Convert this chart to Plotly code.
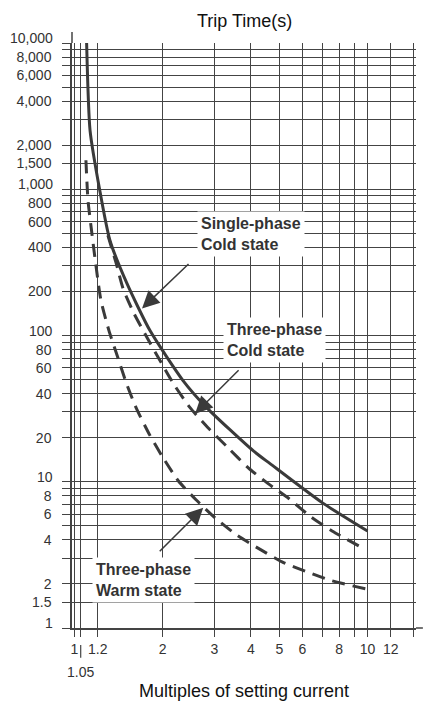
import numpy as np
import plotly.graph_objects as go

# Single-phase, cold state (solid)
single_cold_x = [1.10, 1.13, 1.22, 1.32, 1.51, 1.81, 2.35, 2.83, 4.07, 4.65, 7.0, 10.0]
single_cold_y = [10000, 2530, 980, 450, 227, 108, 49, 32, 16.3, 13.3, 7.2, 4.6]

# Three-phase, cold state (dashed)
three_cold_x = [1.30, 1.385, 1.464, 1.596, 1.768, 1.958, 2.186, 2.48, 2.855, 3.34,
                3.91, 4.58, 5.4, 6.41, 7.57, 9.8]
three_cold_y = [484, 316, 210, 141.6, 96.9, 67.4, 46.2, 32.1, 23.4, 17.1,
                12.5, 9.7, 7.65, 5.75, 4.61, 3.45]

# Three-phase, warm state (dashed)
three_warm_x = [1.094, 1.112, 1.143, 1.175, 1.231, 1.311, 1.402, 1.505, 1.628, 1.796,
                1.997, 2.256, 2.598, 3.017, 3.572, 4.33, 5.11, 6.22, 7.57, 9.9]
three_warm_y = [1580, 841, 524, 337, 174, 108, 71.8, 46.9, 31.6, 21.3,
                14.8, 10.2, 7.53, 5.67, 4.33, 3.42, 2.83, 2.42, 2.10, 1.85]

# axis grid / ticks
x_grid = [1, 1.05, 1.2, 2, 3, 4, 5, 6, 7, 8, 9, 10, 12, 14.3]
x_text = ['1', '', '1.2', '2', '3', '4', '5', '6', '', '8', '', '10', '12', '']
y_grid = [1, 1.5, 2, 3, 4, 5, 6, 7, 8, 9, 10, 20, 30, 40, 50, 60, 70, 80, 90,
          100, 200, 300, 400, 500, 600, 700, 800, 900, 1000, 1500, 2000, 3000,
          4000, 5000, 6000, 7000, 8000, 9000, 10000]
y_labels = {1.5: '1.5', 2: '2', 4: '4', 6: '6', 8: '8', 20: '20',
            40: '40', 60: '60', 80: '80', 200: '200', 400: '400',
            600: '600', 800: '800', 1500: '1,500', 2000: '2,000',
            4000: '4,000', 6000: '6,000', 8000: '8,000'}
y_text = [y_labels.get(v, '') for v in y_grid]
# decade labels sit a little higher than their lines
decade_vals = [1, 10, 100, 1000, 10000]
decade_text = ['1', '10', '100', '1,000', '10,000']

ink = '#3a3a3a'
grid = '#444444'
font = 'Liberation Sans, Arial, sans-serif'
tick_font = dict(family=font, size=14, color='#333333')

fig = go.Figure()
fig.add_trace(go.Scatter(x=single_cold_x, y=single_cold_y, mode='lines',
                         line=dict(color=ink, width=3, shape='spline', smoothing=0.6),
                         showlegend=False))
fig.add_trace(go.Scatter(x=three_cold_x, y=three_cold_y, mode='lines',
                         line=dict(color=ink, width=3, dash='13px,8px',
                                   shape='spline', smoothing=0.6),
                         showlegend=False))
fig.add_trace(go.Scatter(x=three_warm_x, y=three_warm_y, mode='lines',
                         line=dict(color=ink, width=3, dash='13px,8px',
                                   shape='spline', smoothing=0.6),
                         showlegend=False))

xr = [-0.0085, 1.1655]
yr = [0, 4]


def xpaper(v):
    return (np.log10(v) - xr[0]) / (xr[1] - xr[0])


lab_font = dict(family=font, size=16, color='#333333')
notes = [
    dict(text='<b>Single-phase<br>Cold state</b>', x=np.log10(2.62), y=np.log10(495)),
    dict(text='<b>Three-phase<br>Cold state</b>', x=np.log10(3.21), y=np.log10(93)),
    dict(text='<b>Three-phase<br>Warm state</b>', x=np.log10(1.147), y=np.log10(2.13)),
]
annotations = []
for n in notes:
    annotations.append(dict(text=n['text'], x=n['x'], y=n['y'], xref='x', yref='y',
                            xanchor='left', yanchor='middle', align='left',
                            showarrow=False, bgcolor='white', borderpad=3,
                            font=lab_font))

# arrows: tip (data), tail offset (px)
arrows = [(1.70, 153, 48, -46), (2.58, 29.2, 45, -45), (2.75, 6.64, -45, 45)]
for ax_x, ax_y, dx, dy in arrows:
    annotations.append(dict(text='', x=np.log10(ax_x), y=np.log10(ax_y), xref='x', yref='y',
                            showarrow=True, arrowhead=2, arrowsize=2.3, arrowwidth=1.5,
                            arrowcolor=ink, ax=dx, ay=dy, standoff=0))

for v, t in zip(decade_vals, decade_text):
    annotations.append(dict(text=t, x=0, y=np.log10(v), xref='paper', yref='y',
                            xanchor='right', yanchor='middle', xshift=-17, yshift=5,
                            showarrow=False, font=tick_font))

annotations += [
    dict(text='1.05', x=xpaper(1.05), y=-0.075, xref='paper', yref='paper',
         showarrow=False, font=tick_font, xanchor='center', yanchor='middle'),
    dict(text='Multiples of setting current', x=0.5, y=-0.107, xref='paper', yref='paper',
         showarrow=False, font=dict(family=font, size=18, color='#111111'),
         xanchor='center', yanchor='middle'),
    dict(text='I', x=1.03, y=0.0, xref='paper', yref='paper', showarrow=False,
         font=dict(family=font, size=16, color='#333333'), xanchor='left', yanchor='middle'),
    dict(text='Trip Time(s)', x=0.5, y=1.037, xref='paper', yref='paper', showarrow=False,
         font=dict(family=font, size=18, color='#111111'), xanchor='center', yanchor='middle'),
]

shapes = [
    dict(type='line', xref='paper', yref='paper', x0=0, x1=0, y0=1, y1=1.019,
         line=dict(color=grid, width=1.5)),
    dict(type='line', xref='paper', yref='paper', x0=1, x1=1.02, y0=0, y1=0,
         line=dict(color=grid, width=1.5)),
    dict(type='line', xref='paper', yref='paper', x0=xpaper(1.05), x1=xpaper(1.05),
         y0=-0.029, y1=-0.051, line=dict(color=grid, width=1.2)),
]

# the page body adds an 8px offset, so margins are shifted up/left by 8px
fig.update_layout(
    width=435, height=705,
    margin=dict(l=64, r=27, t=35, b=85, autoexpand=False),
    paper_bgcolor='white', plot_bgcolor='white',
    annotations=annotations, shapes=shapes,
    xaxis=dict(type='log', range=xr, tickmode='array', tickvals=x_grid, ticktext=x_text,
               showgrid=True, gridcolor=grid, gridwidth=1.4, automargin=False,
               ticks='outside', ticklen=7, tickcolor=grid, tickwidth=1.4,
               showline=True, linecolor=grid, linewidth=1.5, zeroline=False,
               tickfont=tick_font),
    yaxis=dict(type='log', range=yr, tickmode='array', tickvals=y_grid, ticktext=y_text,
               showgrid=True, gridcolor=grid, gridwidth=1.4, automargin=False,
               ticks='outside', ticklen=8, tickcolor=grid, tickwidth=1.4,
               ticklabelstandoff=8,
               showline=True, linecolor=grid, linewidth=1.5, zeroline=False,
               tickfont=tick_font),
)

fig.write_html("out.html")
